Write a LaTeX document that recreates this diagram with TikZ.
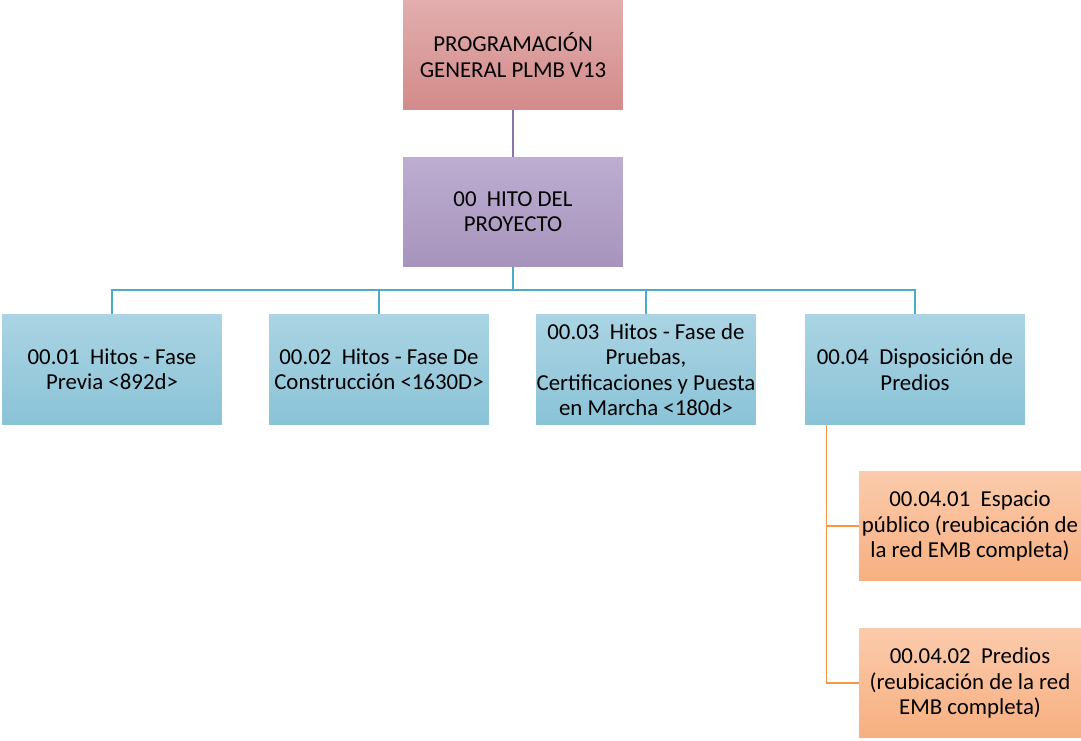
\documentclass[tikz,border=0pt]{standalone}
\usepackage{fontspec}
\setmainfont{Carlito}
\usetikzlibrary{positioning}

\definecolor{rojoA}{HTML}{E2AEAE}
\definecolor{rojoB}{HTML}{D38A8A}
\definecolor{moradoA}{HTML}{BDADD0}
\definecolor{moradoB}{HTML}{A794BD}
\definecolor{azulA}{HTML}{AAD4E3}
\definecolor{azulB}{HTML}{8AC3D7}
\definecolor{naranjaA}{HTML}{FBCBAC}
\definecolor{naranjaB}{HTML}{F7AF80}
\definecolor{lineaMorado}{HTML}{8A74AD}
\definecolor{lineaAzul}{HTML}{4BACC6}
\definecolor{lineaNaranja}{HTML}{F79646}

\tikzset{
  caja/.style={minimum width=4.4cm, minimum height=2.2cm,
    align=center, inner sep=0pt, font=\fontsize{13}{14.4}\selectfont},
  raiz/.style={caja, top color=rojoA, bottom color=rojoB},
  hito/.style={caja, top color=moradoA, bottom color=moradoB},
  fase/.style={caja, top color=azulA, bottom color=azulB},
  predio/.style={caja, minimum width=4.44cm, top color=naranjaA, bottom color=naranjaB},
  conMorado/.style={draw=lineaMorado, line width=0.6pt},
  conAzul/.style={draw=lineaAzul, line width=0.6pt},
  conNaranja/.style={draw=lineaNaranja, line width=0.6pt}
}

\begin{document}
\begin{tikzpicture}[x=0.02cm, y=-0.02cm]
  \useasboundingbox (0,0) rectangle (1081,740);

  \node[raiz] (plmb) at (513,55) {PROGRAMACIÓN\\GENERAL PLMB V13};
  \node[hito] (hito) at (513,212) {00\ \ HITO DEL\\PROYECTO};

  \node[fase] (previa) at (112,369.5) {00.01\ \ Hitos - Fase\\Previa <892d>};
  \node[fase] (constr) at (379,369.5) {00.02\ \ Hitos - Fase De\\Construcción <1630D>};
  \node[fase] (pruebas) at (646,369.5) {00.03\ \ Hitos - Fase de\\Pruebas,\\Certificaciones y Puesta\\en Marcha <180d>};
  \node[fase] (dispo) at (915,369.5) {00.04\ \ Disposición de\\Predios};

  \node[predio] (espacio) at (970,526) {00.04.01\ \ Espacio\\público (reubicación de\\la red EMB completa)};
  \node[predio] (predios) at (970,683) {00.04.02\ \ Predios\\(reubicación de la red\\EMB completa)};

  % conectores
  \draw[conMorado] (plmb.south) -- (hito.north);
  \coordinate (bus) at (513,290);
  \draw[conAzul] (hito.south) -- (bus);
  \foreach \n in {previa,constr,pruebas,dispo}
    \draw[conAzul] (bus) -| (\n.north);

  \coordinate (rama) at ([xshift=0.44cm]dispo.south west);
  \draw[conNaranja] (rama) |- (espacio.west);
  \draw[conNaranja] (rama) |- (predios.west);
\end{tikzpicture}
\end{document}
